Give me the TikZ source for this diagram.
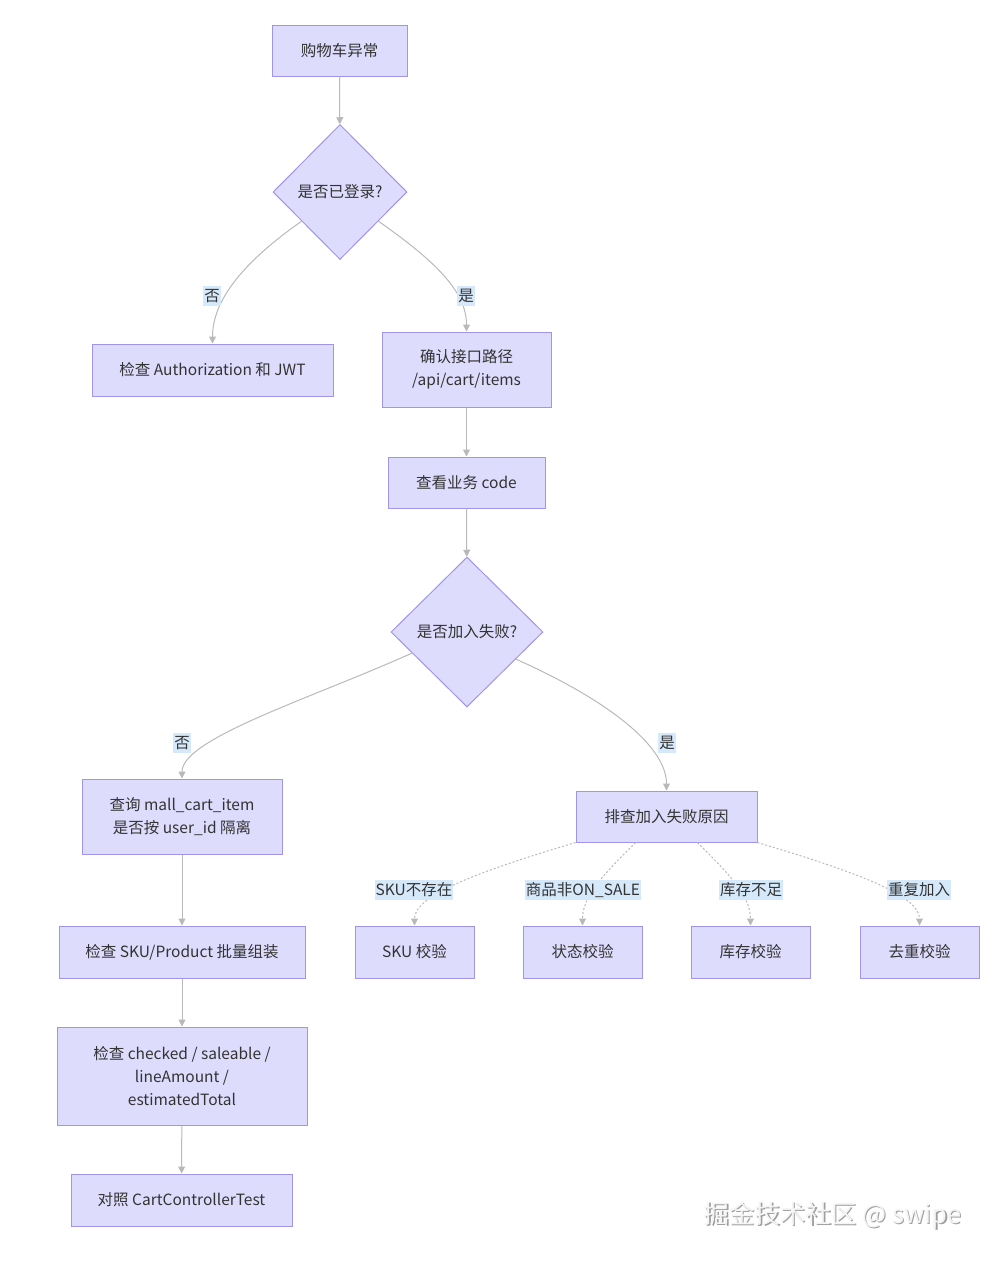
\documentclass[tikz,border=0pt]{standalone}
\usepackage{fontspec}
\setmainfont{Noto Sans CJK SC}
\usetikzlibrary{shapes.geometric,arrows.meta,calc}
\definecolor{boxfill}{RGB}{222,220,252}
\definecolor{boxline}{RGB}{160,148,235}
\definecolor{edgeline}{RGB}{185,185,185}
\definecolor{labelbg}{RGB}{214,233,251}
\definecolor{textfg}{RGB}{51,51,51}
\tikzset{
  stepbox/.style={draw=boxline, fill=boxfill, line width=1pt, text=textfg, align=center, inner sep=0pt},
  decision/.style={diamond, aspect=1, draw=boxline, fill=boxfill, line width=1pt, text=textfg, inner sep=0pt},
  flow/.style={draw=edgeline, line width=1pt, -{Triangle[length=7pt,width=7pt]}},
  check/.style={flow, dash pattern=on 2pt off 2pt},
  edgelabel/.style={fill=labelbg, text=textfg, inner sep=1pt, minimum height=20pt}
}

\begin{document}
\begin{tikzpicture}[x=1pt, y=1pt, font=\fontsize{15.5}{23.2}\selectfont]
        \useasboundingbox (0,0) rectangle (992,-1262);

        % main column
        \node (cart) [stepbox, minimum width=135pt, minimum height=51pt] at (339.5,-50.5) {购物车异常};
        \node (login) [decision, minimum width=134pt, minimum height=135pt] at (340,-192) {是否已登录?};
        \node (jwt) [stepbox, minimum width=241pt, minimum height=52pt] at (212.5,-370) {检查 Authorization 和 JWT};
        \node (path) [stepbox, minimum width=169pt, minimum height=75pt] at (466.5,-369.5) {确认接口路径\\/api/cart/items};
        \node (code) [stepbox, minimum width=157pt, minimum height=51pt] at (466.5,-482.5) {查看业务 code};
        \node (failed) [decision, minimum width=152pt, minimum height=150pt] at (467,-632) {是否加入失败?};

        % left branch
        \node (item) [stepbox, minimum width=200pt, minimum height=75pt] at (182,-816.5) {查询 mall\_cart\_item\\是否按 user\_id 隔离};
        \node (sku) [stepbox, minimum width=246pt, minimum height=52pt] at (182,-952) {检查 SKU/Product 批量组装};
        \node (amount) [stepbox, minimum width=250pt, minimum height=98pt] at (182,-1076) {检查 checked / saleable /\\lineAmount /\\estimatedTotal};
        \node (test) [stepbox, minimum width=221pt, minimum height=52pt] at (181.5,-1200) {对照 CartControllerTest};

        % right branch
        \node (reason) [stepbox, minimum width=181pt, minimum height=51pt] at (666.5,-816.5) {排查加入失败原因};
        \node (skucheck) [stepbox, minimum width=119pt, minimum height=52pt] at (414.5,-952) {SKU 校验};
        \node (statecheck) [stepbox, minimum width=119pt, minimum height=52pt] at (582.5,-952) {状态校验};
        \node (stockcheck) [stepbox, minimum width=119pt, minimum height=52pt] at (750.5,-952) {库存校验};
        \node (dupcheck) [stepbox, minimum width=119pt, minimum height=52pt] at (919.5,-952) {去重校验};

        % connectors
        \draw[flow] (cart) -- (login);
        \draw[flow] ($(login.west)!0.43!(login.south)$) .. controls +(-57,-40) and +(0,44) .. (jwt.north);
        \draw[flow] ($(login.east)!0.43!(login.south)$) .. controls +(57,-40) and +(0,40) .. (path.north);
        \draw[flow] (path) -- (code);
        \draw[flow] (code) -- (failed);
        \draw[flow] ($(failed.west)!0.28!(failed.south)$) .. controls +(-100,-45) and +(0,40) .. (item.north);
        \draw[flow] ($(failed.east)!0.36!(failed.south)$) .. controls +(90,-40) and +(0,45) .. (reason.north);
        \draw[flow] (item) -- (sku);
        \draw[flow] (sku) -- (amount);
        \draw[flow] (amount) -- (test);

        \draw[check] (reason.south west) .. controls +(-100,-30) and +(0,30) .. (skucheck.north);
        \draw[check] ($(reason.south west)!0.33!(reason.south east)$) .. controls +(-30,-30) and +(0,30) .. (statecheck.north);
        \draw[check] ($(reason.south west)!0.67!(reason.south east)$) .. controls +(30,-30) and +(0,30) .. (stockcheck.north);
        \draw[check] (reason.south east) .. controls +(100,-30) and +(0,30) .. (dupcheck.north);

        % labels on top of the lines
        \node (nologin) [edgelabel] at (212,-296) {否};
        \node (yeslogin) [edgelabel] at (466,-296) {是};
        \node (nofail) [edgelabel] at (182,-743) {否};
        \node (yesfail) [edgelabel] at (667,-743) {是};
        \node (nosku) [edgelabel] at (414,-890) {SKU不存在};
        \node (offsale) [edgelabel] at (583,-890) {商品非ON\_SALE};
        \node (nostock) [edgelabel] at (751,-890) {库存不足};
        \node (repeat) [edgelabel] at (919,-890) {重复加入};

        % watermark
        \node (markshadow) [text=gray!75, font=\fontsize{25.5}{30}\selectfont] at (834,-1217) {掘金技术社区 @ swipe};
        \node (mark) at (markshadow) [xshift=-1.2pt, yshift=1.2pt, text=gray!8, font=\fontsize{25.5}{30}\selectfont] {掘金技术社区 @ swipe};
\end{tikzpicture}
\end{document}
